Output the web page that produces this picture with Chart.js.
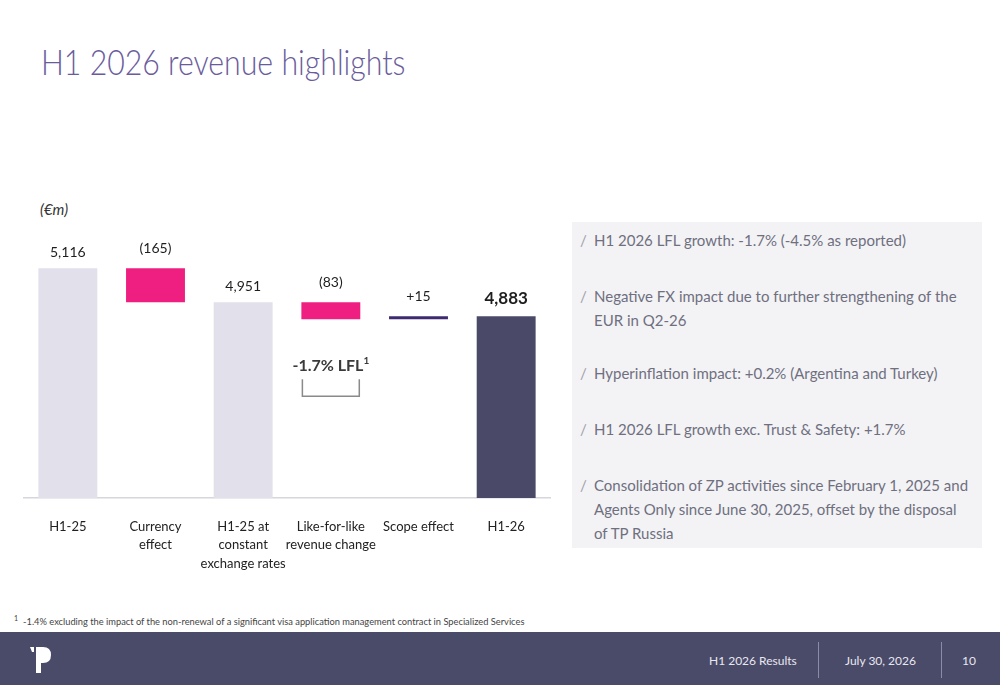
<!DOCTYPE html>
<html>
<head>
<meta charset="utf-8">
<title>H1 2026 revenue highlights</title>
<script src="https://cdn.jsdelivr.net/npm/chart.js@4.4.1/dist/chart.umd.min.js"></script>
<style>
    body { margin: 0; width: 1000px; height: 685px; position: relative; background: #fff; font-family: Lato, "Open Sans", sans-serif; overflow: hidden; }
    .title { position: absolute; left: 41px; top: 40px; font-size: 35px; font-weight: 300; color: #6a5c9c; white-space: nowrap; transform: scaleX(0.865); transform-origin: left top; }
    .unit { position: absolute; left: 40px; top: 200px; font-size: 15px; font-style: italic; color: #333; }
    #chartBox { position: absolute; left: 0; top: 200px; width: 560px; height: 390px; }
    .panel { position: absolute; left: 572px; top: 222px; width: 410px; height: 326px; background: #f3f3f5; }
    .panel div { position: absolute; left: 8px; right: 8px; padding-left: 14px; font-size: 15px; line-height: 24px; color: #6f6f80; }
    .panel div::before { content: "/"; position: absolute; left: 0; color: #a0a0ac; }
    .note { position: absolute; left: 14px; top: 614px; font-size: 9.3px; color: #444; white-space: nowrap; }
    .note sup { font-size: 7px; margin-right: 5px; }
    .footer { position: absolute; left: 0; top: 632px; width: 1000px; height: 53px; background: #4a4a69; color: #e8e8f0; font-size: 12px; }
    .footer span { position: absolute; top: 21px; white-space: nowrap; }
    .footer .sep { position: absolute; top: 10px; width: 1px; height: 36px; background: #8c8ca6; }
    .logo { position: absolute; left: 28px; top: 12px; }
</style>
</head>
<body>
<div class="title">H1 2026 revenue highlights</div>
<div class="unit">(€m)</div>
<div id="chartBox"><canvas id="bridgeChart" width="560" height="390"></canvas></div>

<div class="panel">
    <div style="top: 6px;">H1 2026 LFL growth: -1.7% (-4.5% as reported)</div>
    <div style="top: 62px;">Negative FX impact due to further strengthening of the EUR in Q2-26</div>
    <div style="top: 139px;">Hyperinflation impact: +0.2% (Argentina and Turkey)</div>
    <div style="top: 195px;">H1 2026 LFL growth exc. Trust &amp; Safety: +1.7%</div>
    <div style="top: 251px;">Consolidation of ZP activities since February 1, 2025 and Agents Only since June 30, 2025, offset by the disposal<br>of TP Russia</div>
</div>

<div class="note"><sup>1</sup>-1.4% excluding the impact of the non-renewal of a significant visa application management contract in Specialized Services</div>

<div class="footer">
    <svg class="logo" width="26" height="32" viewBox="0 0 26 32">
        <path d="M2 3 L6 3 L6 8 L4 8 Z" fill="#fff"/>
        <path d="M8 3 L15 3 Q23 3 23 11 Q23 19 15 19 L13 19 L13 29 L8 29 Z" fill="#fff"/>
    </svg>
    <span style="left: 709px;">H1 2026 Results</span>
    <div class="sep" style="left: 818px;"></div>
    <span style="left: 845px;">July 30, 2026</span>
    <div class="sep" style="left: 941px;"></div>
    <span style="left: 962px;">10</span>
</div>

<script>
// Revenue bridge, €m
const categories = [
    ["H1-25"],
    ["Currency", "effect"],
    ["H1-25 at", "constant", "exchange rates"],
    ["Like-for-like", "revenue change"],
    ["Scope effect"],
    ["H1-26"]
];
const values = [5116, -165, 4951, -83, 15, 4883];
const isTotal = [true, false, true, false, false, true];
const barColors = ["#e1e0eb", "#ee1f80", "#e1e0eb", "#ee1f80", "#3e2a70", "#4a4a68"];
const axisMin = 4000;
const axisMax = 5350;
const lflIndex = 3;
const lflLabel = "-1.7% LFL";

const fontFamily = "Lato, 'Open Sans', sans-serif";

// floating ranges for the waterfall
let running = 0;
const ranges = values.map((v, i) => {
    if (isTotal[i]) {
        running = v;
        return [axisMin, v];
    }
    const start = running;
    running += v;
    return [Math.min(start, running), Math.max(start, running)];
});

function valueText(i) {
    const v = values[i];
    if (isTotal[i]) return v.toLocaleString("en-US");
    return v < 0 ? "(" + Math.abs(v) + ")" : "+" + v;
}

const valueLabels = {
    id: "valueLabels",
    afterDatasetsDraw(chart) {
        const ctx = chart.ctx;
        const meta = chart.getDatasetMeta(0);
        meta.data.forEach((bar, i) => {
            const top = Math.min(bar.y, bar.base);
            ctx.save();
            ctx.font = (i === values.length - 1 ? "bold 17px " : "14px ") + fontFamily;
            ctx.fillStyle = "#1e1e1e";
            ctx.textAlign = "center";
            ctx.textBaseline = "bottom";
            ctx.fillText(valueText(i), bar.x, top - (isTotal[i] ? 9 : 13));
            ctx.restore();
        });
    }
};

// "-1.7% LFL" note with bracket under the like-for-like bar
const lflNote = {
    id: "lflNote",
    afterDatasetsDraw(chart) {
        const ctx = chart.ctx;
        const bar = chart.getDatasetMeta(0).data[lflIndex];
        const left = bar.x - bar.width / 2;
        const right = bar.x + bar.width / 2;
        const bottom = Math.max(bar.y, bar.base);
        ctx.save();
        ctx.font = "bold 16px " + fontFamily;
        const w1 = ctx.measureText(lflLabel).width;
        ctx.font = "bold 10px " + fontFamily;
        const w2 = ctx.measureText("1").width;
        const x0 = bar.x - (w1 + w2) / 2;
        ctx.fillStyle = "#3a3a3a";
        ctx.textBaseline = "alphabetic";
        ctx.font = "bold 16px " + fontFamily;
        ctx.fillText(lflLabel, x0, bottom + 52);
        ctx.font = "bold 10px " + fontFamily;
        ctx.fillText("1", x0 + w1, bottom + 45);
        ctx.strokeStyle = "#8a8a8a";
        ctx.lineWidth = 1.5;
        ctx.beginPath();
        ctx.moveTo(left + 1, bottom + 60);
        ctx.lineTo(left + 1, bottom + 77);
        ctx.lineTo(right - 1, bottom + 77);
        ctx.lineTo(right - 1, bottom + 60);
        ctx.stroke();
        ctx.restore();
    }
};

document.addEventListener("DOMContentLoaded", () => {
    const ctx = document.getElementById("bridgeChart").getContext("2d");
    new Chart(ctx, {
        type: "bar",
        data: {
            labels: categories,
            datasets: [
                {
                    data: ranges,
                    backgroundColor: barColors,
                    borderWidth: 0,
                    borderSkipped: false,
                    barPercentage: 0.672,
                    categoryPercentage: 1,
                },
            ],
        },
        options: {
            responsive: false,
            animation: false,
            devicePixelRatio: 1,
            layout: { padding: { top: 20, left: 24, right: 10, bottom: 0 } },
            plugins: {
                legend: { display: false },
                tooltip: { enabled: false },
            },
            scales: {
                x: {
                    grid: { display: false },
                    border: { display: true, color: "#d6d6dc", width: 1.5 },
                    ticks: {
                        color: "#222",
                        padding: 12,
                        maxRotation: 0,
                        autoSkip: false,
                        font: { family: fontFamily, size: 13, lineHeight: 1.4 },
                    },
                    afterFit: (axis) => { axis.height = 92; },
                },
                y: {
                    display: false,
                    min: axisMin,
                    max: axisMax,
                },
            },
        },
        plugins: [valueLabels, lflNote],
    });
});
</script>
</body>
</html>
